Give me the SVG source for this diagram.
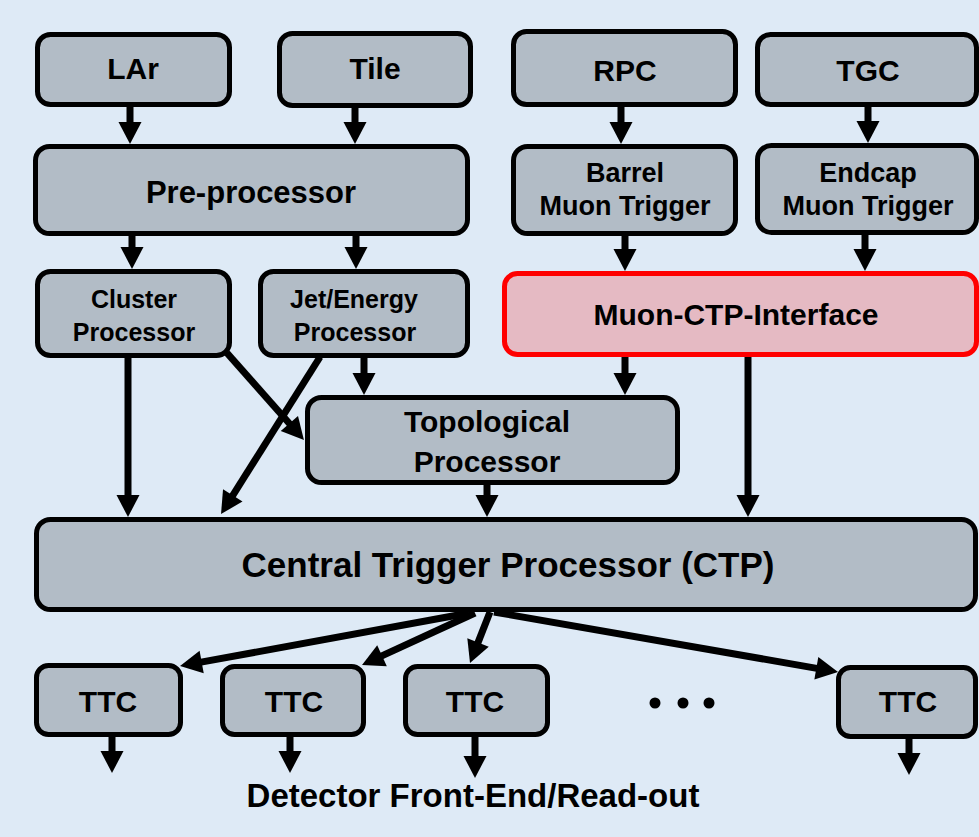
<svg xmlns="http://www.w3.org/2000/svg" width="979" height="837" viewBox="0 0 979 837">
<style>
.bg{fill:#deeaf6}
.box{fill:#b2bcc6;stroke:#000;stroke-width:5}
.hl{fill:#e5bac3;stroke:#ff0000;stroke-width:5}
.t{font-family:"Liberation Sans",Arial,sans-serif;font-weight:bold;fill:#000;text-anchor:middle}
.c{stroke:#000;stroke-width:7;fill:none;marker-end:url(#ah)}
</style>
<defs>
<marker id="ah" markerUnits="userSpaceOnUse" markerWidth="22" markerHeight="23" refX="2" refY="11.5" orient="auto" overflow="visible">
<path d="M0,0 L22,11.5 L0,23 z" fill="#000"/>
</marker>
</defs>
<rect class="bg" x="0" y="0" width="979" height="837"/>

<g id="lar"><rect class="box" x="37.5" y="34.5" width="192" height="70" rx="13"/><text class="t" x="133" y="79" font-size="30">LAr</text></g>
<g id="tile"><rect class="box" x="279.5" y="33.5" width="191" height="72" rx="13"/><text class="t" x="375" y="79" font-size="30">Tile</text></g>
<g id="rpc"><rect class="box" x="513.5" y="31.5" width="222" height="73" rx="13"/><text class="t" x="625" y="81" font-size="30">RPC</text></g>
<g id="tgc"><rect class="box" x="757.5" y="34.5" width="219" height="70" rx="13"/><text class="t" x="868" y="81" font-size="30">TGC</text></g>
<g id="pre"><rect class="box" x="35.5" y="146.5" width="432" height="87" rx="14"/><text class="t" x="251" y="203" font-size="31">Pre-processor</text></g>
<g id="barrel"><rect class="box" x="513.5" y="146.5" width="222" height="87" rx="14"/><text class="t" x="625" y="182" font-size="27">Barrel</text><text class="t" x="625" y="215" font-size="27">Muon Trigger</text></g>
<g id="endcap"><rect class="box" x="757.5" y="145.5" width="219" height="87" rx="14"/><text class="t" x="868" y="182" font-size="27">Endcap</text><text class="t" x="868" y="215" font-size="27">Muon Trigger</text></g>
<g id="cluster"><rect class="box" x="37.5" y="271.5" width="192" height="84" rx="13"/><text class="t" x="134" y="308" font-size="25">Cluster</text><text class="t" x="134" y="341" font-size="25">Processor</text></g>
<g id="jet"><rect class="box" x="260.5" y="271.5" width="207" height="84" rx="13"/><text class="t" x="354" y="308" font-size="25">Jet/Energy</text><text class="t" x="355" y="341" font-size="25">Processor</text></g>
<g id="mci"><rect class="hl" x="504.5" y="273.5" width="472" height="81" rx="13"/><text class="t" x="736" y="325" font-size="30">Muon-CTP-Interface</text></g>
<g id="topo"><rect class="box" x="307.5" y="397.5" width="370" height="85" rx="14"/><text class="t" x="487" y="432" font-size="30">Topological</text><text class="t" x="487" y="472" font-size="30">Processor</text></g>
<g id="ctp"><rect class="box" x="36.5" y="519.5" width="939" height="90" rx="14"/><text class="t" x="508" y="577" font-size="35">Central Trigger Processor (CTP)</text></g>
<g id="ttc1"><rect class="box" x="36.5" y="665.5" width="144" height="69" rx="12"/><text class="t" x="108" y="712" font-size="30">TTC</text></g>
<g id="ttc2"><rect class="box" x="222.5" y="666.5" width="141" height="68" rx="12"/><text class="t" x="294" y="712" font-size="30">TTC</text></g>
<g id="ttc3"><rect class="box" x="405.5" y="666.5" width="142" height="68" rx="12"/><text class="t" x="475" y="712" font-size="30">TTC</text></g>
<g id="ttc4"><rect class="box" x="838.5" y="667.5" width="137" height="69" rx="12"/><text class="t" x="908" y="712" font-size="30">TTC</text></g>
<g id="dots"><circle cx="655" cy="703" r="5.5"/><circle cx="683" cy="703" r="5.5"/><circle cx="709" cy="703" r="5.5"/></g>
<g id="readout"><text class="t" x="473" y="807" font-size="33">Detector Front-End/Read-out</text></g>

<g id="connectors">
<line class="c" x1="130" y1="107" x2="130" y2="124"/>
<line class="c" x1="355" y1="108" x2="355" y2="124"/>
<line class="c" x1="621" y1="107" x2="621" y2="124"/>
<line class="c" x1="868" y1="107" x2="868" y2="123"/>
<line class="c" x1="132" y1="236" x2="132" y2="249"/>
<line class="c" x1="356" y1="236" x2="356" y2="249"/>
<line class="c" x1="625" y1="236" x2="625" y2="251"/>
<line class="c" x1="865" y1="235" x2="865" y2="251"/>
<line class="c" x1="128" y1="358" x2="128" y2="497"/>
<line class="c" x1="227" y1="353" x2="290.7" y2="425"/>
<line class="c" x1="320" y1="357" x2="231.7" y2="497.1"/>
<line class="c" x1="364" y1="358" x2="364" y2="375"/>
<line class="c" x1="625" y1="357" x2="625" y2="375"/>
<line class="c" x1="748" y1="357" x2="748" y2="497"/>
<line class="c" x1="487" y1="485" x2="487" y2="497"/>
<line class="c" x1="469" y1="613" x2="199.7" y2="662.4"/>
<line class="c" x1="475" y1="613" x2="380.2" y2="656.6"/>
<line class="c" x1="490" y1="612" x2="477.3" y2="644.4"/>
<line class="c" x1="494" y1="612" x2="818.3" y2="668.6"/>
<line class="c" x1="112" y1="737" x2="112" y2="753"/>
<line class="c" x1="290" y1="737" x2="290" y2="753"/>
<line class="c" x1="475" y1="737" x2="475" y2="758"/>
<line class="c" x1="909" y1="739" x2="909" y2="755"/>
</g>
</svg>
